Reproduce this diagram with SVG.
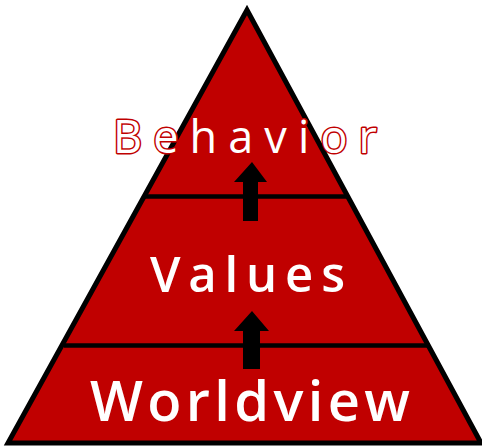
<svg xmlns="http://www.w3.org/2000/svg" width="482" height="447" viewBox="0 0 482 447">
<style>
.lbl{font-family:"Open Sans","Liberation Sans",sans-serif;fill:#fff}
.arrow{fill:#000}
</style>
<rect width="482" height="447" fill="#fff"/>
<g id="pyramid">
<polygon points="247,10 8,443 481,443" fill="#C00000" stroke="#000" stroke-width="5" stroke-linejoin="miter"/>
<line x1="145" y1="196.5" x2="349" y2="196.5" stroke="#000" stroke-width="4.5"/>
<line x1="64" y1="345.5" x2="430" y2="345.5" stroke="#000" stroke-width="4.5"/>
</g>
<g id="connectors">
<polygon class="arrow" points="252,162 267,182 258,182 258,221 243,221 243,182 234,182"/>
<polygon class="arrow" points="252,311 269,331 260,331 260,369 243,369 243,331 234,331"/>
</g>
<g id="behavior">
<text class="lbl" x="113" y="153" font-size="45" textLength="264" lengthAdjust="spacing" stroke="#C00000" stroke-width="3" paint-order="stroke" stroke-linejoin="round">Behavior</text>
</g>
<g id="values">
<text class="lbl" x="150" y="292" font-size="49" font-weight="600" textLength="195" lengthAdjust="spacing">Values</text>
</g>
<g id="worldview">
<text class="lbl" x="90" y="421" font-size="56" font-weight="600" textLength="320" lengthAdjust="spacing">Worldview</text>
</g>
</svg>
